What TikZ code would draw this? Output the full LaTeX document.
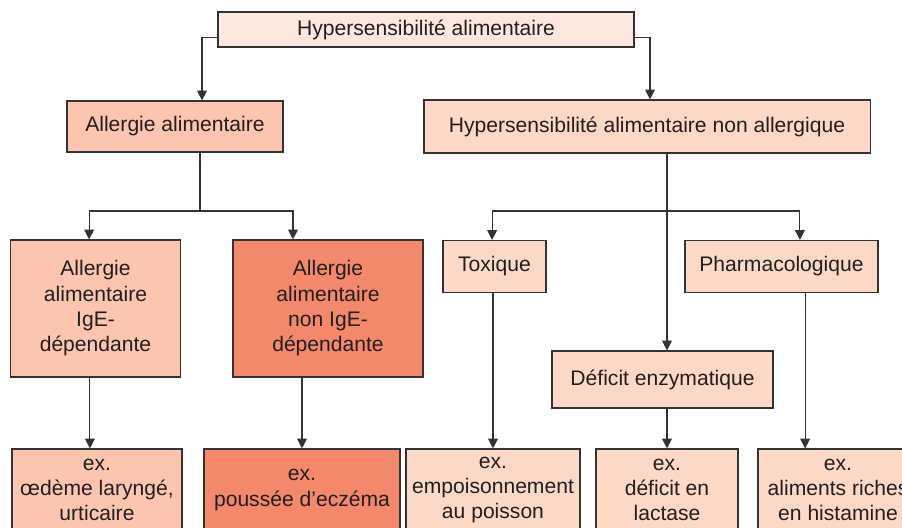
\documentclass[tikz,border=0pt]{standalone}
\usepackage{fontspec}
\setmainfont{Liberation Sans}
\usetikzlibrary{arrows.meta, positioning, calc}
\definecolor{txt}{HTML}{231F20}
\definecolor{edge}{HTML}{333333}
\definecolor{pale}{HTML}{FDE8DF}
\definecolor{light}{HTML}{FCD8C6}
\definecolor{salmon}{HTML}{FBC5B0}
\definecolor{coral}{HTML}{F4886A}
\tikzset{
  box/.style={rectangle, draw=edge, line width=0.8pt, align=center,
              text=txt, font=\fontsize{15}{18}\selectfont, inner sep=2pt},
  top/.style={box, fill=pale},
  lt/.style={box, fill=light},
  sal/.style={box, fill=salmon},
  cor/.style={box, fill=coral},
  arr/.style={-{Triangle[width=7pt,length=7pt]}, line width=0.8pt, draw=edge},
  ln/.style={line width=0.8pt, draw=edge},
}
\begin{document}
\begin{tikzpicture}[x=0.025cm, y=-0.025cm]
  \useasboundingbox (0,0) rectangle (902,527);
  % top level
  \node[top, minimum width=10.4cm, minimum height=0.875cm] (hyp) at (426,29.5) {Hypersensibilité alimentaire};
  % second level
  \node[sal, minimum width=5.4cm, minimum height=1.275cm] (allerg) at (175,126.5) {Allergie alimentaire};
  \node[lt, minimum width=11.15cm, minimum height=1.325cm] (nonall) at (647,126.5) {Hypersensibilité alimentaire non allergique};
  % third level
  \node[sal, minimum width=4.25cm, minimum height=3.425cm] (ige) at (95.5,308.5) {Allergie\\alimentaire\\IgE-\\dépendante};
  \node[cor, minimum width=4.75cm, minimum height=3.425cm] (nonige) at (328,308.5) {Allergie\\alimentaire\\non IgE-\\dépendante};
  \node[lt, minimum width=2.575cm, minimum height=1.3cm] (tox) at (494.5,266.5) {Toxique};
  \node[lt, minimum width=4.825cm, minimum height=1.3cm] (pharma) at (781.5,266.5) {Pharmacologique};
  \node[lt, minimum width=5.525cm, minimum height=1.425cm] (enzy) at (662.5,379.5) {Déficit enzymatique};
  % examples
  \node[sal, minimum width=4.25cm, minimum height=2.05cm] (ex1) at (97,490) {ex.\\œdème laryngé,\\urticaire};
  \node[cor, minimum width=4.9cm, minimum height=2.05cm] (ex2) at (302,490) {ex.\\poussée d’eczéma};
  \node[lt, minimum width=4.35cm, minimum height=2.05cm] (ex3) at (493,490) {ex.\\empoisonnement\\au poisson};
  \node[lt, minimum width=3.55cm, minimum height=2.05cm] (ex4) at (667,490) {ex.\\déficit en\\lactase};
  \node[lt, minimum width=4cm, minimum height=2.05cm] (ex5) at (838,490) {ex.\\aliments riches\\en histamine};
  % branch points
  \coordinate (br1) at (200,211);
  \coordinate (br2) at (667,211);
  % connectors
  \draw[arr] ([yshift=-0.21cm]hyp.west) -| ([xshift=0.675cm]allerg.north);
  \draw[arr] ([yshift=-0.21cm]hyp.east) -| ([xshift=0.075cm]nonall.north);
  \draw[ln] (allerg.south -| br1) -- (br1);
  \draw[arr] (br1) -| ([xshift=-0.16cm]ige.north);
  \draw[arr] (br1) -| ([xshift=-0.875cm]nonige.north);
  \draw[arr] (nonall.south -| br2) -- (enzy.north -| br2);
  \draw[arr] (br2) -| ([xshift=-0.06cm]tox.north);
  \draw[arr] (br2) -| ([xshift=0.46cm]pharma.north);
  \draw[arr] ([xshift=-0.14cm]ige.south) -- ([xshift=-0.14cm]ige.south |- ex1.north);
  \draw[arr] ([xshift=-0.65cm]nonige.south) -- ([xshift=-0.65cm]nonige.south |- ex2.north);
  \draw[arr] (tox.south -| ex3.north) -- (ex3.north);
  \draw[arr] (enzy.south -| ex4.north) -- (ex4.north);
  \draw[arr] ([xshift=0.59cm]pharma.south) -- ([xshift=0.59cm]pharma.south |- ex5.north);
\end{tikzpicture}
\end{document}
